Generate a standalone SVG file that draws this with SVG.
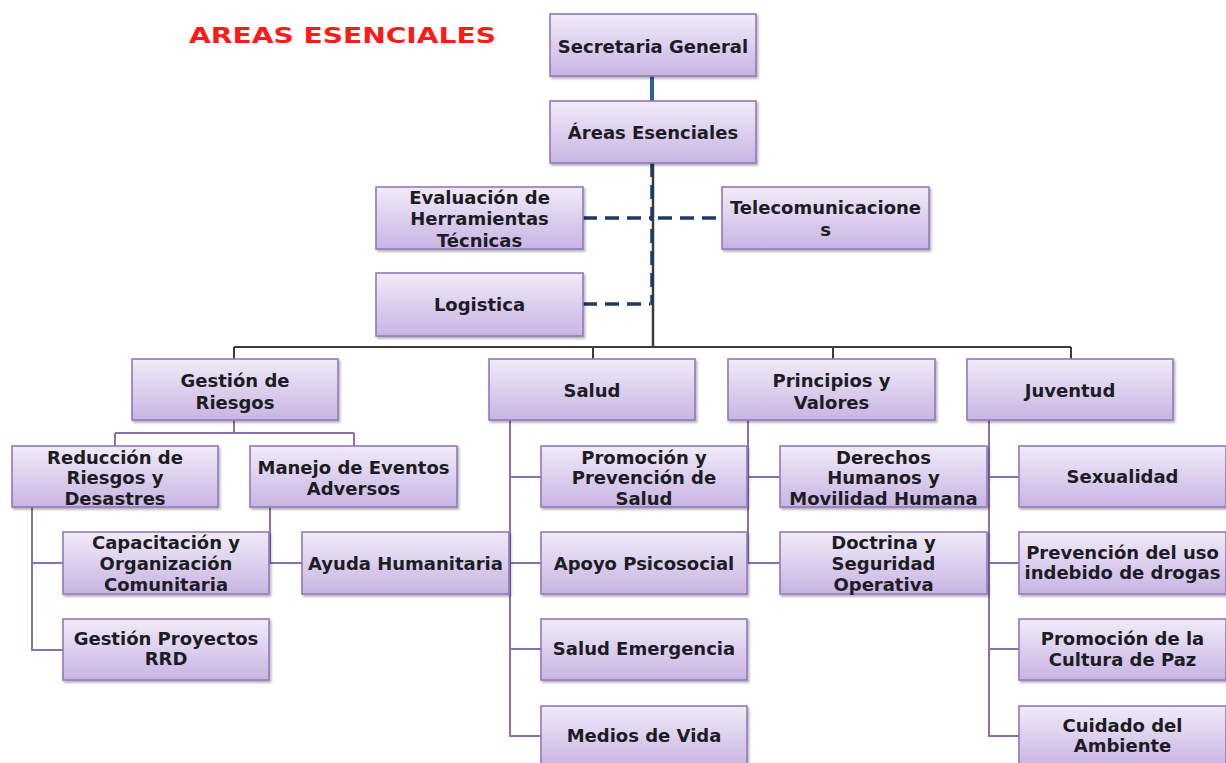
<svg xmlns="http://www.w3.org/2000/svg" width="1226" height="763" viewBox="0 0 1226 763">
<defs>
<linearGradient id="g" x1="0" y1="0" x2="0" y2="1">
<stop offset="0" stop-color="#f1ebf8"/>
<stop offset="1" stop-color="#c8b4e3"/>
</linearGradient>
<filter id="sh" x="-5%" y="-5%" width="115%" height="125%">
<feDropShadow dx="1.5" dy="2" stdDeviation="1.2" flood-color="#000" flood-opacity="0.3"/>
</filter>
</defs>
<style>
.box{fill:url(#g);stroke:#9279bd;stroke-width:1.6;filter:url(#sh)}
.t{font-family:"DejaVu Sans",sans-serif;font-weight:bold;font-size:18px;fill:#1c1c24;text-anchor:middle}
.p{fill:none;stroke:#8a70ad;stroke-width:2}
.bus{fill:none;stroke:#3c3c3c;stroke-width:2}
.dash{fill:none;stroke:#1f3a63;stroke-width:3.5;stroke-dasharray:14 8}
</style>
<rect width="1226" height="763" fill="#ffffff"/>
<text x="189" y="43" font-family="DejaVu Sans,sans-serif" font-weight="bold" font-size="22" fill="#ff1a1a" textLength="307" lengthAdjust="spacingAndGlyphs">AREAS ESENCIALES</text>
<g id="connectors">
<line x1="652" y1="76" x2="652" y2="101" stroke="#2f6199" stroke-width="4"/>
<line x1="653" y1="163" x2="653" y2="348" stroke="#3c3c3c" stroke-width="2.5"/>
<line x1="652" y1="163" x2="652" y2="305" class="dash" stroke-dasharray="10 5" stroke-width="4"/>
<path class="dash" d="M583 218 H652 M658 218 H722 M583 304 H650"/>
<path class="bus" d="M234 347 H1071 M234 347 V359 M593 347 V359 M833 347 V359 M1071 347 V359"/>
<path class="p" d="M234 420 V433 M115 433 H354 M115 433 V446 M354 433 V446"/>
<path class="p" d="M32 507 V650 H63 M32 563 H63"/>
<path class="p" d="M270 507 V563 H302"/>
<path class="p" d="M510 420 V736 H541 M510 477 H541 M509 563 H541 M510 649 H541"/>
<path class="p" d="M748 420 V563 H780 M748 477 H780"/>
<path class="p" d="M989 420 V736 H1019 M989 477 H1019 M989 563 H1019 M989 649 H1019"/>
</g>
<g id="secretaria"><rect class="box" x="550" y="14" width="206" height="62"/><text class="t" x="653" y="52.5">Secretaria General</text></g>
<g id="areas"><rect class="box" x="550" y="101" width="206" height="62"/><text class="t" x="653" y="138.5">Áreas Esenciales</text></g>
<g id="evaluacion"><rect class="box" x="376" y="187" width="207" height="62"/><text class="t" x="479.5" y="204">Evaluación de</text><text class="t" x="479.5" y="225">Herramientas</text><text class="t" x="479.5" y="246.5">Técnicas</text></g>
<g id="telecom"><rect class="box" x="722" y="187" width="207" height="62"/><text class="t" x="825.5" y="214">Telecomunicacione</text><text class="t" x="825.5" y="236">s</text></g>
<g id="logistica"><rect class="box" x="376" y="273" width="207" height="63"/><text class="t" x="479.5" y="310.5">Logistica</text></g>
<g id="gestion"><rect class="box" x="132" y="359" width="206" height="61"/><text class="t" x="235" y="386.5">Gestión de</text><text class="t" x="235" y="408.5">Riesgos</text></g>
<g id="salud"><rect class="box" x="489" y="359" width="206" height="61"/><text class="t" x="592" y="396.5">Salud</text></g>
<g id="principios"><rect class="box" x="728" y="359" width="207" height="61"/><text class="t" x="831.5" y="386.5">Principios y</text><text class="t" x="831.5" y="408.5">Valores</text></g>
<g id="juventud"><rect class="box" x="967" y="359" width="206" height="61"/><text class="t" x="1070" y="396.5">Juventud</text></g>
<g id="reduccion"><rect class="box" x="12" y="446" width="206" height="61"/><text class="t" x="115" y="463.5">Reducción de</text><text class="t" x="115" y="484">Riesgos y</text><text class="t" x="115" y="504.5">Desastres</text></g>
<g id="manejo"><rect class="box" x="250" y="446" width="207" height="61"/><text class="t" x="353.5" y="473.5">Manejo de Eventos</text><text class="t" x="353.5" y="494.5">Adversos</text></g>
<g id="capacitacion"><rect class="box" x="63" y="532" width="206" height="62"/><text class="t" x="166" y="548.5">Capacitación y</text><text class="t" x="166" y="569.5">Organización</text><text class="t" x="166" y="590.5">Comunitaria</text></g>
<g id="ayuda"><rect class="box" x="302" y="532" width="207" height="62"/><text class="t" x="405.5" y="569.5">Ayuda Humanitaria</text></g>
<g id="proyectos"><rect class="box" x="63" y="619" width="206" height="61"/><text class="t" x="166" y="644.5">Gestión Proyectos</text><text class="t" x="166" y="664.5">RRD</text></g>
<g id="promocion"><rect class="box" x="541" y="446" width="206" height="61"/><text class="t" x="644" y="463.5">Promoción y</text><text class="t" x="644" y="484">Prevención de</text><text class="t" x="644" y="504.5">Salud</text></g>
<g id="apoyo"><rect class="box" x="541" y="532" width="206" height="62"/><text class="t" x="644" y="569.5">Apoyo Psicosocial</text></g>
<g id="emergencia"><rect class="box" x="541" y="619" width="206" height="61"/><text class="t" x="644" y="654.5">Salud Emergencia</text></g>
<g id="medios"><rect class="box" x="541" y="706" width="206" height="61"/><text class="t" x="644" y="741.5">Medios de Vida</text></g>
<g id="derechos"><rect class="box" x="780" y="446" width="207" height="61"/><text class="t" x="883.5" y="463.5">Derechos</text><text class="t" x="883.5" y="484">Humanos y</text><text class="t" x="883.5" y="504.5">Movilidad Humana</text></g>
<g id="doctrina"><rect class="box" x="780" y="532" width="207" height="62"/><text class="t" x="883.5" y="548.5">Doctrina y</text><text class="t" x="883.5" y="569.5">Seguridad</text><text class="t" x="883.5" y="590.5">Operativa</text></g>
<g id="sexualidad"><rect class="box" x="1019" y="446" width="207" height="61"/><text class="t" x="1122.5" y="482.5">Sexualidad</text></g>
<g id="prevencion"><rect class="box" x="1019" y="532" width="207" height="62"/><text class="t" x="1122.5" y="558.5">Prevención del uso</text><text class="t" x="1122.5" y="578.5">indebido de drogas</text></g>
<g id="paz"><rect class="box" x="1019" y="619" width="207" height="61"/><text class="t" x="1122.5" y="644.5">Promoción de la</text><text class="t" x="1122.5" y="665.5">Cultura de Paz</text></g>
<g id="ambiente"><rect class="box" x="1019" y="706" width="207" height="61"/><text class="t" x="1122.5" y="731.5">Cuidado del</text><text class="t" x="1122.5" y="751.5">Ambiente</text></g>
</svg>
